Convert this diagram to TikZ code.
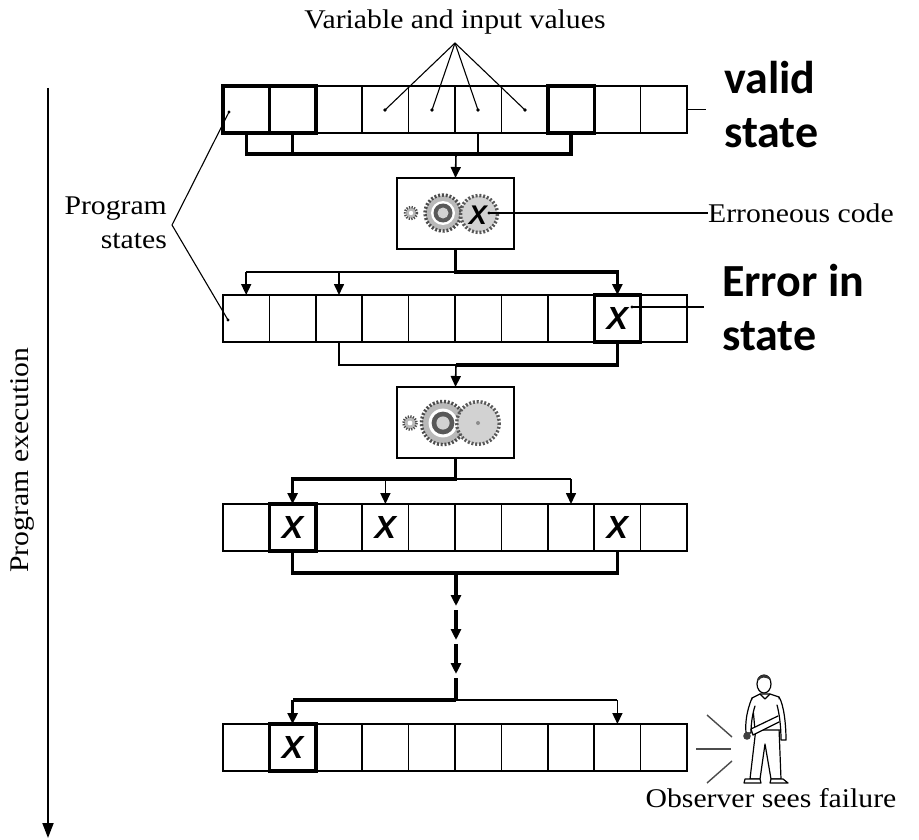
\documentclass[tikz,border=0pt]{standalone}
\usepackage{fontspec}
\setmainfont{Liberation Serif}
\newfontfamily\labelfont{Liberation Serif}[FakeStretch=1.1]
\newfontfamily\calfont{Carlito}
\newfontfamily\xfont{Liberation Sans}
\usetikzlibrary{arrows.meta}
\tikzset{
  cellbox/.style={draw, line width=1.6pt, minimum width=46.4pt, minimum height=47pt, inner sep=0pt, outer sep=0pt},
  gearbox/.style={draw, fill=white, line width=1.8pt, minimum width=117pt, minimum height=71pt, inner sep=0pt, outer sep=0pt},
  wire/.style={line width=1.6pt},
  thickwire/.style={line width=3.2pt},
  pointer/.style={line width=1.1pt},
  arr/.style={-{Triangle[length=11pt,width=10pt]}},
  serif/.style={font=\labelfont\fontsize{27}{34}\selectfont, inner sep=0pt},
  boldlabel/.style={font=\calfont\bfseries\fontsize{46}{54}\selectfont, align=left, inner sep=0pt},
  xmark/.style={font=\xfont\bfseries\itshape\fontsize{32}{32}\selectfont, inner sep=0pt},
  gearx/.style={font=\xfont\bfseries\itshape\fontsize{27}{27}\selectfont, inner sep=0pt},
  pics/smallgear/.style={code={
    \fill[gray!55] (0,0) circle (5.5);
    \draw[black!70, line width=2.4pt, dash pattern=on 1.3pt off 1.3pt] (0,0) circle (6);
    \fill[white] (0,0) circle (2.2);
  }},
  pics/midgear/.style={code={
    \fill[gray!55] (0,0) circle (17.5);
    \draw[black!70, line width=3.4pt, dash pattern=on 2pt off 1.8pt] (0,0) circle (18);
    \fill[white] (0,0) circle (12);
    \fill[black!65] (0,0) circle (9.5);
    \fill[gray!35] (0,0) circle (5.5);
  }},
  pics/biggear/.style={code={
    \fill[gray!35] (0,0) circle (18);
    \draw[black!65, line width=3.4pt, dash pattern=on 2pt off 1.8pt] (0,0) circle (18.5);
  }},
}
\begin{document}
\begin{tikzpicture}[x=1pt,y=-1pt]
\useasboundingbox[fill=white] (0,0) rectangle (919,840);

% ---- state rows ----
\foreach \r/\y in {1/109.5, 2/318.5, 3/527.5, 4/747.5}{
  \foreach \i in {0,...,9}{
    \node[cellbox] (r\r-\i) at ({223+46.4*(\i+0.5)}, \y) {};
  }
}
\foreach \c in {r1-0, r1-1, r1-7, r2-8, r3-1, r4-1}{
  \draw[line width=3.4pt] (\c.north west) rectangle (\c.south east);
}

% ---- gear boxes ----
\node[gearbox] (g1) at (455.5,213.5) {};
\node[gearbox] (g2) at (455.5,422.5) {};
\pic at (411,213) {smallgear};
\pic at (443,213) {midgear};
\pic at (479,214) {biggear};
\node[gearx] (gx) at (478,215) {X};
\pic[scale=1.1] at (410,423) {smallgear};
\pic[scale=1.2] at (443,423) {midgear};
\pic[scale=1.15] at (478,423) {biggear};
\fill[black!45] (478,423) circle (2);

% ---- X marks ----
\node[xmark] (x2) at (r2-8) {X};
\node[xmark] (x31) at (r3-1) {X};
\node[xmark] (x33) at (r3-3) {X};
\node[xmark] (x38) at (r3-8) {X};
\node[xmark] (x41) at (r4-1) {X};

% ---- coordinates ----
\coordinate (b1) at (456,154);
\coordinate (s1) at (456,272);
\coordinate (s2) at (456,365);
\coordinate (s3) at (456,479);
\coordinate (s4) at (456,573);
\coordinate (s5) at (456,700);

% row 1 -> gears 1
\draw[thickwire] (r1-0.south) -- (r1-0.south |- b1) -- (r1-7.south |- b1) -- (r1-7.south);
\draw[thickwire] (r1-1.south) -- (r1-1.south |- b1);
\draw[wire] (r1-5.south) -- (r1-5.south |- b1);
\draw[wire,arr] (b1) -- (g1.north);

% gears 1 -> row 2
\draw[thickwire,arr] (g1.south) |- (r2-8.north |- s1) -- (r2-8.north);
\draw[wire] (s1) -- (s1 -| r2-0);
\draw[wire,arr] (s1 -| r2-0) -- (r2-0.north);
\draw[wire,arr] (s1 -| r2-2) -- (r2-2.north);

% row 2 -> gears 2
\draw[thickwire] (r2-8.south) |- (s2);
\draw[wire] (r2-2.south) |- (s2);
\draw[wire,arr] (s2) -- (g2.north);

% gears 2 -> row 3
\draw[thickwire,arr] (g2.south) |- (r3-1.north |- s3) -- (r3-1.north);
\draw[wire] (s3) -- (s3 -| r3-7);
\draw[wire,arr] (s3 -| r3-3) -- (r3-3.north);
\draw[wire,arr] (s3 -| r3-7) -- (r3-7.north);

% row 3 -> row 4 (broken path)
\draw[thickwire] (r3-1.south) |- (r3-8.south |- s4) -- (r3-8.south);
\coordinate (k1) at (456,606);
\coordinate (k2) at (456,610);
\coordinate (k3) at (456,640);
\coordinate (k4) at (456,644);
\coordinate (k5) at (456,674);
\coordinate (k6) at (456,678);
\draw[thickwire,arr] (s4) -- (k1);
\draw[thickwire,arr] (k2) -- (k3);
\draw[thickwire,arr] (k4) -- (k5);
\draw[thickwire] (k6) -- (s5);
\draw[thickwire] (s5) -- (s5 -| r4-1);
\draw[thickwire,arr] (s5 -| r4-1) -- (r4-1.north);
\draw[wire] (s5) -- (s5 -| r4-8);
\draw[wire,arr] (s5 -| r4-8) -- (r4-8.north);

% ---- labels ----
\node[serif] (var) at (455,22) {Variable and input values};
\coordinate (vapex) at (455,43);
\foreach \n/\x in {d3/385, d4/432, d5/478, d6/525}{
  \coordinate (\n) at (\x,110);
  \draw[pointer] (vapex) -- (\n);
  \fill (\n) circle (1.8);
}

\node[serif, align=right, anchor=east] (ps) at (167,223) {Program\\states};
\coordinate (psapex) at (172,225);
\coordinate (pd1) at (229,112);
\coordinate (pd2) at (228,320);
\draw[pointer] (pd1) -- (psapex) -- (pd2);
\fill (pd1) circle (1.6);
\fill (pd2) circle (1.6);

\node[serif, anchor=west] (err) at (708,213) {Erroneous code};
\coordinate (gxd) at (489,213);
\fill (gxd) circle (1.6);
\draw[pointer] (gxd) -- (err.west);

\coordinate (vstub) at (706,109.5);
\draw[pointer] (r1-9.east) -- (vstub);
\node[boldlabel, anchor=base west] (valid) at (724,148) {valid\\state};

\coordinate (edot) at (632,307);
\coordinate (estub) at (704,307);
\fill (edot) circle (1.6);
\draw[pointer] (edot) -- (estub);
\node[boldlabel, anchor=base west] (einst) at (722,350) {Error in\\state};

% ---- program execution axis ----
\coordinate (pe0) at (48,88);
\coordinate (pe1) at (48,838);
\draw[line width=1.8pt, -{Triangle[length=15pt,width=11pt]}] (pe0) -- (pe1);
\node[serif, rotate=90] (pe) at (22,460) {Program execution};

% ---- observer ----
\draw[line width=1.4pt, black!70] (707,715) -- (732,737);
\draw[line width=1.4pt, black!70] (696,749) -- (731,749);
\draw[line width=1.4pt, black!70] (707,783) -- (732,761);
\begin{scope}[line width=1.2pt, line join=round, line cap=round]
  % legs
  \draw[fill=white] (756,728) -- (750,779) -- (760,779) -- (765,744) -- (771,779) -- (781,779) -- (779,728) -- cycle;
  \draw[fill=white] (744,783) -- (745,779) -- (760,779) -- (761,783) -- cycle;
  \draw[fill=white] (770,783) -- (771,779) -- (783,779) -- (788,783) -- cycle;
  % torso
  \draw[fill=white] (752,698) -- (760,694) -- (770,694) -- (779,697) -- (781,730) -- (755,730) -- cycle;
  % right arm hanging
  \draw[fill=white] (779,697) .. controls (784,705) and (786,725) .. (786,740) -- (781,740) .. controls (781,725) and (779,712) .. (777,705);
  % left arm
  \draw[fill=white] (752,698) .. controls (747,710) and (745,722) .. (746,733) -- (751,733) .. controls (751,722) and (753,712) .. (755,706);
  % forearm across
  \draw[fill=white] (778,716) -- (751,729) -- (753,735) -- (779,722);
  \fill[black!75] (747,736) circle (3.8);
  % collar
  \draw (760,694) -- (765,699) -- (770,694);
  % head
  \draw[fill=white] (764,684) ellipse (7 and 9);
  \fill[black!80] (757,681) .. controls (757,673) and (771,673) .. (771,681) -- (769,679) .. controls (765,677) and (761,677) .. (759,680) -- cycle;
\end{scope}
\node[serif] (obs) at (771,798) {Observer sees failure};
\end{tikzpicture}
\end{document}
